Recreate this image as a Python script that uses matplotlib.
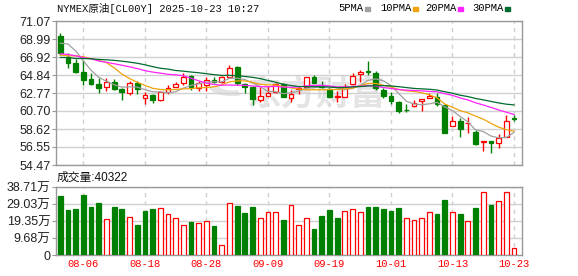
import numpy as np
import pandas as pd
import matplotlib
matplotlib.use("Agg")
import matplotlib.pyplot as plt
from matplotlib.patches import Rectangle, Wedge

#-----data-----#
opens = [69.34, 66.96, 66.27, 65.23, 64.39, 63.81, 63.50, 64.04, 63.20, 62.81,
         63.96, 62.23, 62.54, 61.97, 62.93, 63.50, 63.96, 64.73, 63.32, 63.70,
         64.27, 64.08, 64.65, 65.74, 63.81, 63.43, 61.97, 62.46, 62.93, 63.81,
         62.23, 63.20, 63.50, 64.58, 63.62, 63.20, 62.31, 62.35, 63.78, 64.93,
         65.35, 65.05, 63.12, 62.46, 61.70, 60.86, 61.28, 61.82, 62.16, 62.35,
         61.39, 59.01, 59.58, 59.28, 58.32, 57.10, 57.28, 56.98, 57.72, 59.94]
highs = [69.72, 67.35, 66.66, 66.58, 65.05, 64.47, 64.47, 64.35, 63.32, 64.16,
         64.12, 62.93, 62.62, 62.93, 63.70, 64.01, 65.11, 64.85, 64.19, 64.58,
         64.58, 64.73, 66.00, 65.89, 63.89, 63.58, 63.43, 63.58, 63.89, 63.89,
         63.12, 63.62, 64.66, 64.85, 64.16, 63.31, 63.01, 63.78, 65.05, 65.43,
         66.50, 65.30, 63.32, 62.85, 61.85, 61.51, 61.97, 62.05, 62.81, 62.81,
         61.51, 60.13, 59.86, 59.97, 58.51, 57.25, 57.28, 58.05, 60.20, 60.24]
lows = [67.20, 65.62, 65.11, 63.70, 63.70, 62.81, 63.04, 63.12, 61.97, 62.54,
        62.66, 61.47, 61.66, 61.89, 62.66, 63.43, 63.70, 63.12, 63.04, 63.04,
        63.98, 63.96, 64.54, 63.70, 62.74, 61.39, 61.78, 62.43, 62.81, 62.27,
        61.78, 62.62, 63.39, 63.89, 63.31, 62.27, 61.70, 62.27, 63.70, 64.08,
        64.85, 63.12, 62.23, 61.47, 60.44, 60.58, 61.13, 60.74, 62.16, 61.32,
        58.20, 59.01, 57.74, 58.13, 56.78, 56.13, 55.90, 56.40, 57.67, 59.59]
closes = [67.35, 66.27, 65.23, 64.27, 63.81, 63.32, 64.01, 63.20, 62.89, 63.96,
          63.20, 62.54, 61.97, 62.85, 63.39, 63.81, 64.65, 63.50, 63.89, 64.27,
          64.01, 64.58, 65.62, 63.89, 63.50, 62.05, 62.43, 62.81, 63.81, 62.35,
          62.62, 63.32, 64.58, 63.96, 63.43, 62.35, 62.46, 63.50, 64.77, 65.16,
          65.23, 63.32, 62.46, 61.89, 60.70, 60.78, 61.66, 62.05, 62.43, 61.51,
          58.20, 59.55, 58.59, 59.35, 56.90, 57.25, 56.98, 57.55, 59.55, 59.82]
# closes of the 29 sessions before the first candle (estimated, only used for the MAs)
prior_closes = [66.50, 68.51, 64.37, 64.92, 65.24, 65.52, 65.11, 65.45, 67.45, 67.00,
                67.93, 68.33, 68.38, 66.57, 68.45, 66.98, 66.52, 66.38, 67.54, 67.34,
                67.20, 65.31, 65.25, 66.03, 65.16, 66.71, 69.21, 70.00, 69.26]
# volume in 万
volumes = [33.4, 25.5, 26.1, 34.0, 27.2, 29.5, 20.4, 27.2, 26.1, 21.9,
           17.0, 24.9, 26.1, 26.6, 23.6, 21.0, 16.8, 18.7, 18.1, 19.1,
           16.4, 5.5, 29.8, 27.8, 23.8, 27.2, 21.3, 24.7, 24.2, 19.8,
           28.7, 16.8, 21.3, 14.7, 22.1, 25.5, 21.0, 25.3, 26.4, 24.2,
           27.2, 27.2, 26.1, 24.9, 26.6, 21.3, 20.2, 21.3, 24.7, 23.6,
           31.2, 24.2, 23.6, 19.1, 26.6, 36.1, 28.7, 30.6, 36.1, 4.03]
vol_up = [0, 0, 0, 0, 0, 0, 1, 0, 0, 1,
          0, 0, 0, 1, 1, 1, 1, 0, 1, 1,
          0, 1, 1, 0, 0, 0, 1, 1, 1, 0,
          1, 1, 1, 0, 0, 0, 0, 1, 1, 1,
          0, 0, 0, 0, 0, 1, 1, 1, 1, 0,
          0, 1, 0, 1, 0, 1, 0, 1, 1, 1]
price_ticks = [71.07, 68.99, 66.92, 64.84, 62.77, 60.70, 58.62, 56.55, 54.47]
vol_ticks = [0, 9.6775, 19.355, 29.0325, 38.71]
vol_tick_labels = ["0", "9.68万", "19.35万", "29.03万", "38.71万"]
date_ticks = [3, 11, 19, 27, 35, 43, 51, 59]
date_labels = ["08-06", "08-18", "08-28", "09-09", "09-19", "10-01", "10-13", "10-23"]
ma_periods = [5, 10, 20, 30]
ma_names = ["5PMA", "10PMA", "20PMA", "30PMA"]
ma_colors = ["#a0a0a0", "#f0a30a", "#ff22ff", "#006b2f"]
#-----data-----#

up_col = "#ff0000"
dn_col = "#008000"
grid_col = "#d0d0d0"
frame_col = "#999999"
wm_col = "#e4e4e4"
mono = ["Liberation Mono", "Noto Sans CJK SC"]

plt.rcParams["font.family"] = ["Liberation Sans", "Noto Sans CJK SC"]

o = np.array(opens); h = np.array(highs); l = np.array(lows); c = np.array(closes)
x = np.arange(len(c))
up = c >= o
cols = [up_col if u else dn_col for u in up]

full = pd.Series(prior_closes + closes)
mas = [full.rolling(p).mean().iloc[len(prior_closes):].values for p in ma_periods]

fig = plt.figure(figsize=(5.78, 2.76), dpi=100)
ax = fig.add_axes([56/578, 1-165/276, 466/578, 144/276])
ax2 = fig.add_axes([56/578, 1-255/276, 466/578, 68/276])

# watermark (logo + name)
ax.text(316/578, 1-94/276, "东方财富", transform=fig.transFigure, fontsize=25,
        color=wm_col, fontweight="bold", family="Noto Sans CJK SC",
        ha="center", va="center", zorder=0)
ax.add_artist(Wedge((232/578, 1-84/276), 24/578, 200, 290, width=9/578,
                    transform=fig.transFigure, color=wm_col, zorder=0))

# candles
ax.vlines(x, l, h, colors=cols, lw=1, zorder=2)
body = np.maximum(np.abs(c - o), 0.05)
ax.bar(x, body, bottom=np.minimum(o, c), width=0.62,
       facecolor=["white" if u else dn_col for u in up], edgecolor=cols, lw=0.9, zorder=3)
for m, col in zip(mas, ma_colors):
    ax.plot(x, m, color=col, lw=0.9, zorder=4)

# volume
vcols = [up_col if u else dn_col for u in vol_up]
ax2.bar(x, volumes, width=0.62, facecolor=["white" if u else dn_col for u in vol_up],
        edgecolor=vcols, lw=0.9, zorder=3)

for a in (ax, ax2):
    a.set_xlim(-0.56, 60.04)
    a.set_xticks(date_ticks)
    a.grid(axis="x", color=grid_col, ls=(0, (3, 3)), lw=1, zorder=0)
    a.grid(axis="y", color=grid_col, lw=1, zorder=0)
    for s in a.spines.values():
        s.set_color(frame_col)
        s.set_linewidth(1)
    a.tick_params(axis="y", length=3, pad=1, color=frame_col, labelsize=9, labelcolor="#222222")
    a.tick_params(axis="x", length=0)

ax.set_ylim(54.47, 71.07)
ax.set_yticks(price_ticks)
ax.set_yticklabels(["%.2f" % v for v in price_ticks])
ax.set_xticklabels([])

ax2.set_ylim(0, 38.71)
ax2.set_yticks(vol_ticks)
ax2.set_yticklabels(vol_tick_labels)
ax2.set_xticklabels(date_labels, color=up_col, fontsize=7.6, family=mono)
ax2.tick_params(axis="x", pad=3)

# header + legend
fig.text(57/578, 1-8/276, "NYMEX原油[CL00Y] 2025-10-23 10:27", fontsize=7.6,
         family=mono, ha="left", va="center", color="#111111")
legend_x = [338, 380, 425, 472]
for name, col, lx in zip(ma_names, ma_colors, legend_x):
    t = fig.text(lx/578, 1-8/276, name, fontsize=7.6, family=mono, ha="left", va="center")
    fig.canvas.draw()
    bb = t.get_window_extent()
    fig.add_artist(Rectangle(((bb.x1+2)/578, 1-11/276), 5/578, 4/276,
                             transform=fig.transFigure, color=col))

fig.text(57/578, 1-178/276, "成交量:40322", fontsize=8.5, ha="left", va="center", color="#111111")

plt.savefig("out.png", dpi=100)
